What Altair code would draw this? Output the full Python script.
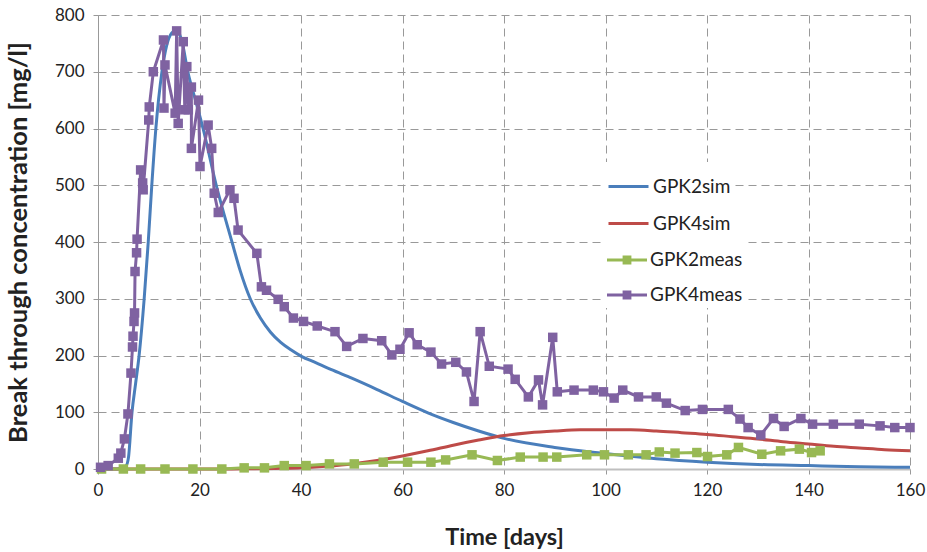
import altair as alt
import pandas as pd

# ---- data ----
gpk2sim_t = [0, 3, 4.5, 5.5, 6.0, 6.7, 7.4, 8.1, 9.1, 9.9, 10.6, 11.4, 12.6, 13.5, 14.5, 15.4,
             16.5, 17.7, 19.2, 20.7, 23.3, 26.4, 28, 30, 32, 34, 36, 38, 40, 43, 46, 50, 55,
             60, 65, 70, 75, 80, 90, 99, 110, 120, 130, 140, 150, 160]
gpk2sim_c = [0, 0, 1, 5, 20, 100, 150, 200, 300, 400, 500, 600, 700, 745, 768, 773,
             755, 700, 650, 600, 500, 400, 350, 300, 266, 241, 223, 210, 199, 187, 175, 160, 140,
             119, 99, 82, 67, 54, 38, 28, 18, 12, 8, 6, 4, 3]

gpk4sim_t = [0, 25, 30, 35, 40, 45, 50, 55, 60, 65, 70, 75, 80, 85, 90, 95, 100, 105, 110,
             115, 120, 125, 130, 135, 140, 145, 150, 155, 160]
gpk4sim_c = [0, 0, 0.5, 1, 2, 5, 9, 15, 23, 32, 42, 51, 59, 64, 67, 69, 69, 69, 67,
             64, 61, 57, 53, 48, 44, 40, 37, 34, 32]

gpk2meas_t = [0.7, 5, 8.4, 13.2, 18.7, 24.4, 28.8, 32.8, 36.7, 41, 45.6, 50.5, 56.2, 61,
              65.6, 68.5, 73.7, 78.7, 83.2, 87.7, 90.4, 96.3, 99.8, 104.5, 108, 110.6,
              113.7, 118, 120.1, 123.9, 126.2, 130.8, 134.5, 138.2, 140.6, 142.3]
gpk2meas_c = [0, 0, 0, 0, 0, 0, 2, 2, 6, 6, 9, 9, 12, 12,
              12, 16, 25, 15, 21, 21, 21, 25, 25, 25, 25, 30,
              28, 29, 22, 25, 38, 26, 32, 35, 29, 32]

gpk4meas_t = [0.5, 2, 4, 4.5, 5.2, 5.9, 6.5, 6.8, 6.9, 7.1, 7.2, 7.3, 7.6, 7.7, 8.4, 8.8,
              8.9, 10, 10.1, 10.9, 12.9, 13.0, 13.2, 15.2, 15.5, 15.8, 16.8, 17.1, 17.5,
              17.8, 18.4, 18.4, 19.8, 20.1, 21.7, 22.4, 22.9, 23.7, 26, 26.8, 27.6, 31.3,
              32.2, 33.2, 35.5, 36.7, 38.5, 40.5, 43.2, 46.7, 49, 52.2, 55.9, 57.9, 59.5,
              61.3, 62.9, 65.6, 67.7, 70.5, 72.6, 74.1, 75.3, 77.1, 80.8, 82.2, 84.8, 86.8,
              87.6, 89.6, 90.5, 93.8, 97.6, 99.6, 101.7, 103.4, 106.5, 110, 112, 115.7,
              119.1, 124.2, 126.5, 128.1, 130.6, 133.1, 135.2, 138.5, 140.8, 144.9, 150,
              154.1, 157, 160]
gpk4meas_c = [3, 6, 19, 28, 53, 97, 169, 215, 234, 260, 275, 348, 381, 405, 527, 504,
              492, 615, 638, 700, 756, 636, 712, 627, 772, 609, 753, 633, 709,
              633, 673, 565, 650, 533, 606, 565, 486, 452, 492, 477, 421, 380,
              321, 315, 299, 286, 266, 260, 252, 242, 216, 230, 226, 201, 211,
              240, 219, 206, 185, 188, 171, 119, 242, 181, 176, 158, 127, 157,
              113, 232, 136, 139, 139, 136, 125, 139, 127, 127, 116, 103,
              105, 105, 88, 73, 60, 89, 75, 89, 79, 79, 79,
              76, 73, 73]

x_ticks = [0, 20, 40, 60, 80, 100, 120, 140, 160]
y_ticks = [0, 100, 200, 300, 400, 500, 600, 700, 800]

sim_names = ["GPK2sim", "GPK4sim"]
sim_colors = ["#4A7EBB", "#BE4B48"]
meas_names = ["GPK2meas", "GPK4meas"]
meas_colors = ["#98B954", "#7F62A1"]

sim_df = pd.concat([
    pd.DataFrame({"t": gpk2sim_t, "c": gpk2sim_c, "series": "GPK2sim", "o": range(len(gpk2sim_t))}),
    pd.DataFrame({"t": gpk4sim_t, "c": gpk4sim_c, "series": "GPK4sim", "o": range(len(gpk4sim_t))}),
])
meas_df = pd.concat([
    pd.DataFrame({"t": gpk2meas_t, "c": gpk2meas_c, "series": "GPK2meas", "o": range(len(gpk2meas_t))}),
    pd.DataFrame({"t": gpk4meas_t, "c": gpk4meas_c, "series": "GPK4meas", "o": range(len(gpk4meas_t))}),
])

FONT = "Lato"

x_enc = alt.X("t:Q", scale=alt.Scale(domain=[0, 160], nice=False),
              axis=alt.Axis(values=x_ticks, title="Time [days]", titleX=406, titleY=68,
                            titleBaseline="middle", labelFlush=False))
y_enc = alt.Y("c:Q", scale=alt.Scale(domain=[0, 800], nice=False),
              axis=alt.Axis(values=y_ticks, title="Break through concentration [mg/l]",
                            titleX=-80, titleY=227, titleAngle=270, titleAlign="center",
                            titleBaseline="middle", labelFlush=False))

legend_common = dict(orient="none", title=None, labelFont=FONT, labelFontSize=19,
                     labelColor="#222222", fillColor="white", padding=3,
                     symbolSize=1600, labelOffset=3)

sim_lines = alt.Chart(sim_df).mark_line(strokeWidth=3, interpolate="monotone").encode(
    x=x_enc, y=y_enc, order="o:Q",
    color=alt.Color("series:N",
                    scale=alt.Scale(domain=sim_names, range=sim_colors),
                    legend=alt.Legend(legendX=506, legendY=147, symbolType="stroke",
                                      symbolStrokeWidth=3, rowPadding=5, **legend_common)),
)

meas_lines = alt.Chart(meas_df).mark_line(strokeWidth=3).encode(
    x=x_enc, y=y_enc, order="o:Q",
    color=alt.Color("series:N", scale=alt.Scale(domain=meas_names, range=meas_colors),
                    legend=None),
)
square_path = "M-1,-0.075H-0.22V-0.22H0.22V-0.075H1V0.075H0.22V0.22H-0.22V0.075H-1Z"
meas_points = alt.Chart(meas_df).mark_square(size=90, opacity=1).encode(
    x=x_enc, y=y_enc,
    color=alt.Color("series:N", scale=alt.Scale(domain=meas_names, range=meas_colors),
                    legend=alt.Legend(legendX=506, legendY=222, symbolType=square_path,
                                      symbolStrokeWidth=0, symbolOpacity=1, rowPadding=5,
                                      **legend_common)),
)

chart = alt.layer(sim_lines, meas_lines, meas_points).resolve_scale(
    color="independent"
).properties(
    width=812, height=454,
    autosize=alt.AutoSizeParams(type="none"),
    padding={"left": 98, "top": 15, "right": 17, "bottom": 83},
    background="white",
).configure_view(stroke=None).configure_axis(
    labelFont=FONT, labelFontSize=17, labelColor="#222222",
    titleFont=FONT, titleFontWeight="bold", titleColor="#222222",
    grid=True, gridColor="#999999", gridDash=[8, 5], gridWidth=1,
    tickColor="#999999", tickSize=5, domainColor="#999999",
).configure_axisX(labelPadding=8, domainColor="#BFBFBF", domainWidth=2,
                  titleFontSize=23.5).configure_axisY(labelPadding=9, titleFontSize=25.5)

chart.save("out.html", embed_options={"renderer": "svg", "actions": False})
